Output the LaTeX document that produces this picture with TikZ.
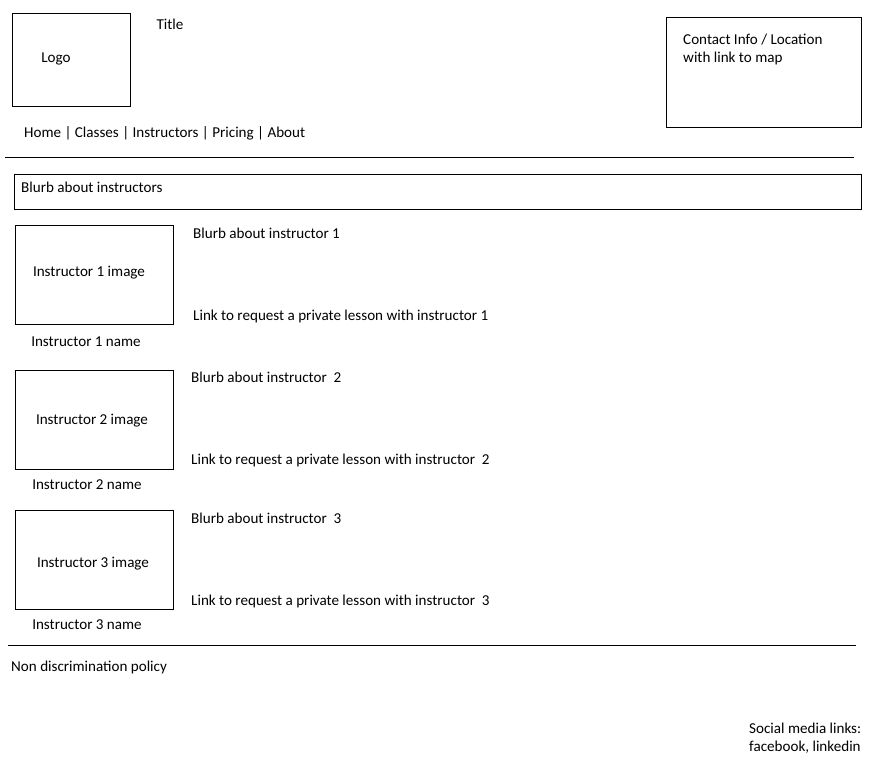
\documentclass[tikz,border=0pt]{standalone}
\usepackage{fontspec}
\setmainfont{Carlito}
\begin{document}
\begin{tikzpicture}[x=1pt,y=-1pt,
  txt/.style={inner sep=0pt, font=\fontsize{15.1}{18}\selectfont, text=black, yshift=-1.5pt},
  ltxt/.style={txt, anchor=west},
  frame/.style={draw=black, line width=1pt, inner sep=0pt},
  rule/.style={draw=black, line width=1pt}]
\useasboundingbox[fill=white] (0,0) rectangle (896,763);
% header
\node[frame, minimum width=118pt, minimum height=93pt] (logo) at (71,59.5) {};
\node[txt] (logotxt) at (56,57) {Logo};
\node[txt] (title) at (170,23) {Title};
\node[frame, minimum width=195pt, minimum height=110pt] (contact) at (763.5,72) {};
\node[ltxt, align=left, anchor=north west] (contacttxt) at (683,32.5) {Contact Info / Location\\with link to map};
\node[ltxt] (nav) at (24,132) {Home | Classes | Instructors | Pricing | About};
\coordinate (r1a) at (5,157); \coordinate (r1b) at (854,157);
\draw[rule] (r1a) -- (r1b);
% blurb
\node[frame, minimum width=847pt, minimum height=35pt] (blurb) at (437.5,191.5) {};
\node[ltxt] (blurbtxt) at (21,186) {Blurb about instructors};
% instructor 1
\node[frame, minimum width=158pt, minimum height=99pt] (img1) at (94,274.5) {};
\node[txt] (img1txt) at (89,271) {Instructor 1 image};
\node[txt] (name1) at (86,340) {Instructor 1 name};
\node[ltxt] (bl1) at (193,232) {Blurb about instructor 1};
\node[ltxt] (lk1) at (193,315) {Link to request a private lesson with instructor 1};
% instructor 2
\node[frame, minimum width=158pt, minimum height=99pt] (img2) at (94,419.5) {};
\node[txt] (img2txt) at (92,419) {Instructor 2 image};
\node[txt] (name2) at (87,483) {Instructor 2 name};
\node[ltxt] (bl2) at (191,376) {Blurb about instructor\ \ 2};
\node[ltxt] (lk2) at (191,459) {Link to request a private lesson with instructor\ \ 2};
% instructor 3
\node[frame, minimum width=158pt, minimum height=99pt] (img3) at (94,559.5) {};
\node[txt] (img3txt) at (93,562) {Instructor 3 image};
\node[txt] (name3) at (87,623) {Instructor 3 name};
\node[ltxt] (bl3) at (191,517) {Blurb about instructor\ \ 3};
\node[ltxt] (lk3) at (191,600) {Link to request a private lesson with instructor\ \ 3};
% footer
\coordinate (r2a) at (8,645); \coordinate (r2b) at (856,645);
\draw[rule] (r2a) -- (r2b);
\node[ltxt] (nondisc) at (11,666) {Non discrimination policy};
\node[ltxt, align=left, anchor=north west] (social) at (749,721.5) {Social media links:\\facebook, linkedin};
\end{tikzpicture}
\end{document}
